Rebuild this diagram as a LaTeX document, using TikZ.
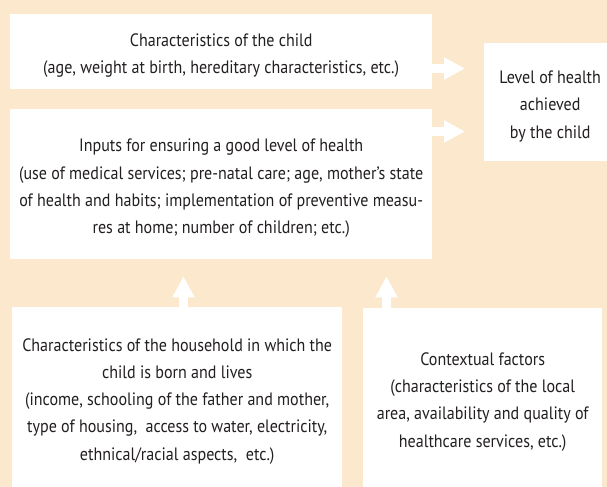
\documentclass[tikz,border=0pt]{standalone}
\usepackage{fontspec}
\setmainfont{PT Sans}[FakeStretch=0.895]
\usetikzlibrary{arrows.meta}
\definecolor{bg}{RGB}{252,232,205}
\definecolor{ink}{RGB}{35,31,32}
\newcommand\firstline{\rule{0pt}{21bp}}
\tikzset{
  box/.style={fill=white, inner sep=0pt, anchor=north west, align=center,
    text=ink, font=\fontsize{18}{27.3}\selectfont},
  blockarrow/.style={draw=white, line width=8.5bp,
    -{Triangle[length=21bp,width=21bp]}},
}
\begin{document}
\begin{tikzpicture}[x=1bp,y=-1bp]
\fill[bg] (0,0) rectangle (607,487);
\useasboundingbox (0,0) rectangle (607,487);
\node[box, minimum width=422bp, minimum height=75bp] (child) at (10,14)
  {\firstline Characteristics of the child\\(age, weight at birth, hereditary characteristics, etc.)};
\node[box, minimum width=422bp, minimum height=150bp] (inputs) at (10,109)
  {\firstline Inputs for ensuring a good level of health\\
   (use of medical services; pre-natal care; age, mother’s state\\
   of health and habits; implementation of preventive measu-\\
   res at home; number of children; etc.)};
\node[box, minimum width=132bp, minimum height=118bp] (level) at (484,43)
  {\firstline Level of health\\achieved\\by the child};
\node[box, minimum width=330bp, minimum height=180bp] (household) at (12,307)
  {\firstline Characteristics of the household in which the\\
   child is born and lives\\
   (income, schooling of the father and mother,\\
   type of housing,\ \ access to water, electricity,\\
   ethnical/racial aspects,\ \ etc.)};
\node[box, minimum width=239bp, minimum height=179bp] (context) at (363,308)
  {\firstline Contextual factors\\
   (characteristics of the local\\
   area, availability and quality of\\
   healthcare services, etc.)};
\coordinate (ya) at (0,68.5);
\coordinate (yb) at (0,131.5);
\coordinate (xa) at (183.5,0);
\coordinate (xb) at (386.5,0);
\draw[blockarrow, shorten >=19bp] (child.east |- ya) -- (level.west |- ya);
\draw[blockarrow, shorten >=19bp] (inputs.east |- yb) -- (level.west |- yb);
\draw[blockarrow, shorten >=17bp] (household.north -| xa) -- (inputs.south -| xa);
\draw[blockarrow, shorten >=17bp] (context.north -| xb) -- (inputs.south -| xb);
\end{tikzpicture}
\end{document}
